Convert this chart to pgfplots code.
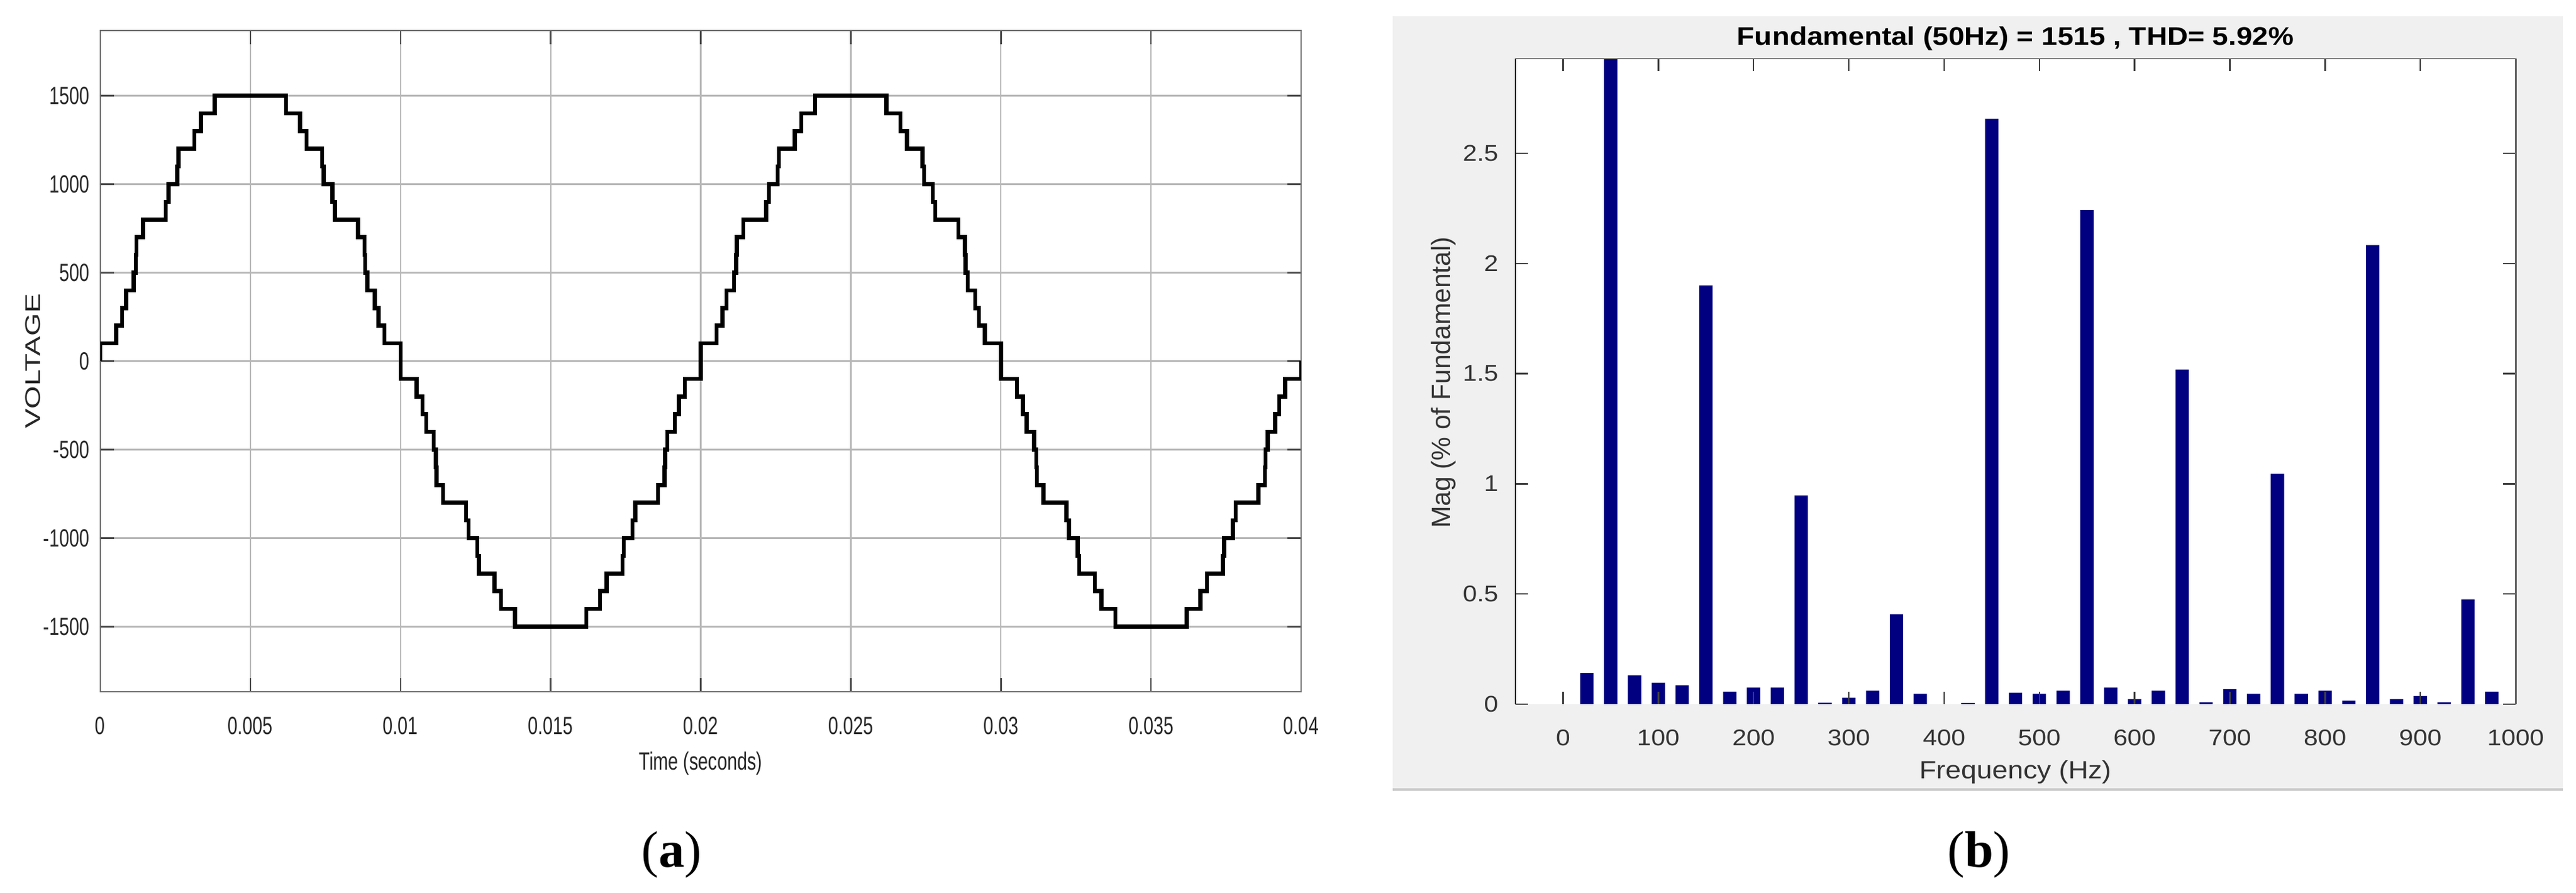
\documentclass[border=0pt]{standalone}
\usepackage{fontspec}
\setmainfont{Liberation Sans}
\newfontfamily\narrowsf{Liberation Sans}[FakeStretch=0.72]
\newfontfamily\tallsf{Liberation Sans}[FakeStretch=1.39]
\newfontfamily\widesf{Liberation Sans}[FakeStretch=1.12]
\newfontfamily\capserif{Liberation Serif}
\usepackage{pgfplots}
\pgfplotsset{compat=1.18}
\definecolor{matnavy}{RGB}{0,0,128}
\definecolor{panelgray}{RGB}{240,240,240}

% staircase output voltage, value holds from t until the next row
\pgfplotstableread{
t v
0 0
0 100
0.00053 200
0.00073 300
0.00086 400
0.00111 500
0.00118 600
0.00120 700
0.00142 800
0.00218 900
0.00227 1000
0.00256 1100
0.00261 1200
0.00313 1300
0.00335 1400
0.00381 1500
0.00619 1400
0.00665 1300
0.00687 1200
0.00739 1100
0.00744 1000
0.00773 900
0.00782 800
0.00858 700
0.00880 600
0.00882 500
0.00889 400
0.00914 300
0.00927 200
0.00947 100
0.01000 -100
0.01053 -200
0.01073 -300
0.01086 -400
0.01111 -500
0.01118 -600
0.01120 -700
0.01142 -800
0.01218 -900
0.01227 -1000
0.01256 -1100
0.01261 -1200
0.01313 -1300
0.01335 -1400
0.01381 -1500
0.01619 -1400
0.01665 -1300
0.01687 -1200
0.01739 -1100
0.01744 -1000
0.01773 -900
0.01782 -800
0.01858 -700
0.01880 -600
0.01882 -500
0.01889 -400
0.01914 -300
0.01927 -200
0.01947 -100
0.02000 100
0.02053 200
0.02073 300
0.02086 400
0.02111 500
0.02118 600
0.02120 700
0.02142 800
0.02218 900
0.02227 1000
0.02256 1100
0.02261 1200
0.02313 1300
0.02335 1400
0.02381 1500
0.02619 1400
0.02665 1300
0.02687 1200
0.02739 1100
0.02744 1000
0.02773 900
0.02782 800
0.02858 700
0.02880 600
0.02882 500
0.02889 400
0.02914 300
0.02927 200
0.02947 100
0.03000 -100
0.03053 -200
0.03073 -300
0.03086 -400
0.03111 -500
0.03118 -600
0.03120 -700
0.03142 -800
0.03218 -900
0.03227 -1000
0.03256 -1100
0.03261 -1200
0.03313 -1300
0.03335 -1400
0.03381 -1500
0.03619 -1400
0.03665 -1300
0.03687 -1200
0.03739 -1100
0.03744 -1000
0.03773 -900
0.03782 -800
0.03858 -700
0.03880 -600
0.03882 -500
0.03889 -400
0.03914 -300
0.03927 -200
0.03947 -100
0.04000 0
}\wavedata

% harmonic spectrum, % of fundamental (50 Hz bar runs off the top)
\pgfplotstableread{
f mag
25 0.142
50 100
75 0.131
100 0.097
125 0.086
150 1.90
175 0.057
200 0.075
225 0.075
250 0.947
275 0.007
300 0.029
325 0.061
350 0.408
375 0.047
425 0.005
450 2.657
475 0.052
500 0.047
525 0.061
550 2.242
575 0.075
600 0.023
625 0.061
650 1.518
675 0.009
700 0.068
725 0.047
750 1.045
775 0.047
800 0.061
825 0.016
850 2.083
875 0.023
900 0.037
925 0.009
950 0.475
975 0.057
}\fftdata

\begin{document}
\begin{tikzpicture}
\useasboundingbox (0,0) rectangle (826.8pt,286.4pt);
\fill[panelgray] (447pt,33pt) rectangle (822.6pt,281.2pt);
\draw[black!22, line width=0.8pt] (447pt,33pt) -- (822.6pt,33pt);

\begin{axis}[
    name=A,
    at={(32.2pt,64.4pt)}, anchor=south west,
    scale only axis, width=385.4pt, height=212.2pt,
    xmin=0, xmax=0.04, ymin=-1868, ymax=1868,
    scaled x ticks=false, scaled y ticks=false,
    xtick={0,0.005,0.01,0.015,0.02,0.025,0.03,0.035,0.04},
    xticklabels={0,0.005,0.01,0.015,0.02,0.025,0.03,0.035,0.04},
    ytick={-1500,-1000,...,1500},
    yticklabels={-1500,-1000,-500,0,500,1000,1500},
    grid=major,
    major grid style={black!28, line width=0.45pt},
    axis line style={black!55, line width=0.5pt},
    tick style={black!70, line width=0.5pt},
    major tick length=4.5pt, tick align=inside,
    tick label style={font=\narrowsf\fontsize{8}{9}\selectfont, text=black!85},
    xticklabel style={yshift=-4.5pt},
    xlabel={Time (seconds)},
    xlabel style={at={(axis description cs:0.5,-0.109)}, anchor=center,
        font=\narrowsf\fontsize{8}{9}\selectfont, text=black!85},
    ylabel={VOLTAGE},
    ylabel style={at={(axis description cs:-0.056,0.5)}, anchor=center,
        font=\tallsf\fontsize{6.8}{8}\selectfont, text=black!85},
    ]
    \addplot[const plot, black, line width=1.3pt] table[x=t, y=v] {\wavedata};
\end{axis}

\begin{axis}[
    name=B,
    at={(486.4pt,60.4pt)}, anchor=south west,
    scale only axis, width=321pt, height=207.2pt,
    xmin=-50, xmax=1000, ymin=0, ymax=2.93,
    axis background/.style={fill=white},
    axis on top, axis line style={draw=none},
    ybar, bar width=14,
    xtick={0,100,...,1000},
    xticklabels={0,100,200,300,400,500,600,700,800,900,1000},
    ytick={0,0.5,1,1.5,2,2.5},
    yticklabels={0,0.5,1,1.5,2,2.5},
    tick align=inside, major tick length=4pt,
    tick style={black!75, line width=0.5pt},
    tick label style={font=\widesf\fontsize{7.3}{8}\selectfont, text=black!80},
    xticklabel style={yshift=-4.6pt},
    yticklabel style={xshift=-2pt},
    title={Fundamental (50Hz) = 1515 , THD= 5.92\%},
    every axis title shift=0pt,
    title style={at={(axis description cs:0.5,1.031)}, anchor=center,
        font=\widesf\bfseries\fontsize{8.2}{9}\selectfont},
    xlabel={Frequency (Hz)},
    xlabel style={at={(axis description cs:0.5,-0.105)}, anchor=center,
        font=\widesf\fontsize{8}{9}\selectfont, text=black!80},
    ylabel={Mag (\% of Fundamental)},
    ylabel style={at={(axis description cs:-0.0717,0.498)}, anchor=center,
        font=\fontsize{8.5}{9}\selectfont, text=black!80},
    ]
    \addplot[fill=matnavy, draw=none] table[x=f, y=mag] {\fftdata};
\end{axis}
\draw[black!85, line width=0.55pt] (B.south west) -- (B.north west);
\draw[black!50, line width=0.55pt] (B.north west) -- (B.north east);
\draw[black!60, line width=0.6pt] (B.north east) -- (B.south east);

\node[font=\capserif\fontsize{16.5}{18}\selectfont] at (215.6pt,12pt) {(\textbf{a})};
\node[font=\capserif\fontsize{16.5}{18}\selectfont] at (635.2pt,12pt) {(\textbf{b})};
\end{tikzpicture}
\end{document}
